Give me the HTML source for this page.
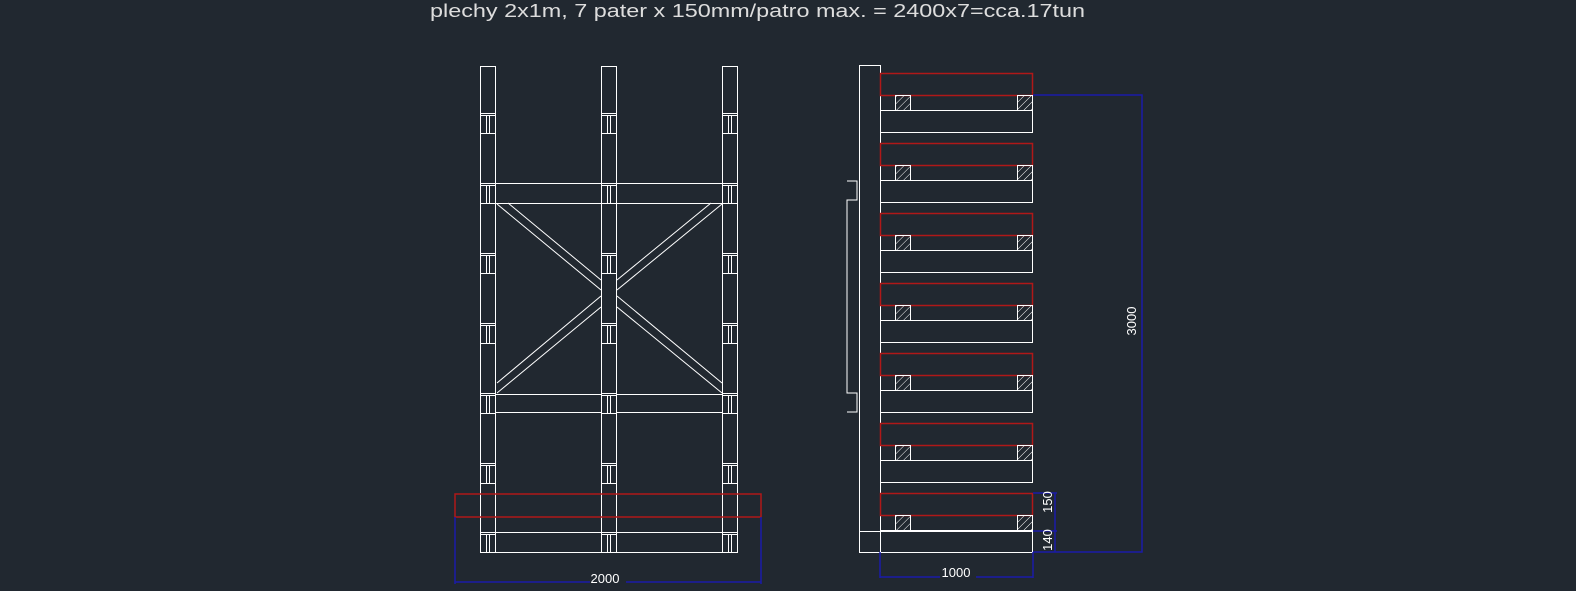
<!DOCTYPE html>
<html><head><meta charset="utf-8"><style>
html,body{margin:0;padding:0;background:#212830;}
svg{display:block}
</style></head><body>
<svg width="1576" height="591" viewBox="0 0 1576 591" xmlns="http://www.w3.org/2000/svg">
<defs>
<pattern id="h" width="5" height="5" patternUnits="userSpaceOnUse" patternTransform="rotate(45)">
<line x1="0" y1="0" x2="0" y2="5" stroke="#fff" stroke-width="1"/>
</pattern>
<g id="j" stroke="#fff" stroke-width="1" fill="none">
<line x1="0" y1="0.5" x2="16" y2="0.5"/><line x1="0" y1="2.5" x2="16" y2="2.5"/>
<line x1="0" y1="20.5" x2="16" y2="20.5"/>
<line x1="6.5" y1="3" x2="6.5" y2="20"/><line x1="9.5" y1="3" x2="9.5" y2="20"/>
</g>
<g id="col"><rect x="0.5" y="66.5" width="15" height="486" fill="none" stroke="#fff"/>
<use href="#j" y="113"/><use href="#j" y="183"/><use href="#j" y="253"/><use href="#j" y="323"/><use href="#j" y="393"/><use href="#j" y="463"/><use href="#j" y="532"/>
</g>
<g id="lv">
<rect x="880.5" y="0.5" width="152" height="22" fill="none" stroke="#b01818" stroke-width="1.5"/>
<rect x="895.5" y="22.5" width="15" height="15" fill="url(#h)" stroke="#fff"/>
<rect x="1017.5" y="22.5" width="15" height="15" fill="url(#h)" stroke="#fff"/>
<rect x="880.5" y="37.5" width="152" height="22" fill="none" stroke="#fff"/>
</g>
</defs>
<text x="430" y="17" font-family="Liberation Sans, sans-serif" font-size="18" fill="#ddd" textLength="655" lengthAdjust="spacingAndGlyphs">plechy 2x1m, 7 pater x 150mm/patro max. = 2400x7=cca.17tun</text>

<g stroke="#fff" stroke-width="1" fill="none">
<use href="#col" x="480"/><use href="#col" x="601"/><use href="#col" x="722"/>
<line x1="496" y1="183.5" x2="601" y2="183.5"/><line x1="496" y1="203.5" x2="601" y2="203.5"/>
<line x1="617" y1="183.5" x2="722" y2="183.5"/><line x1="617" y1="203.5" x2="722" y2="203.5"/>
<line x1="496" y1="394.5" x2="601" y2="394.5"/><line x1="496" y1="412.5" x2="601" y2="412.5"/>
<line x1="617" y1="394.5" x2="722" y2="394.5"/><line x1="617" y1="412.5" x2="722" y2="412.5"/>
<line x1="496" y1="532.5" x2="601" y2="532.5"/><line x1="496" y1="552.5" x2="601" y2="552.5"/>
<line x1="617" y1="532.5" x2="722" y2="532.5"/><line x1="617" y1="552.5" x2="722" y2="552.5"/>
<line x1="508" y1="203" x2="601" y2="280"/><line x1="497" y1="204" x2="601" y2="290"/>
<line x1="601" y1="296" x2="497" y2="383"/><line x1="601" y1="307" x2="497" y2="393"/>
<line x1="711" y1="203" x2="617" y2="280"/><line x1="722" y1="204" x2="617" y2="290"/>
<line x1="617" y1="296" x2="722" y2="383"/><line x1="617" y1="307" x2="722" y2="393"/>
</g>
<rect x="455" y="494" width="306" height="23" fill="none" stroke="#b01818" stroke-width="1.5"/>
<g stroke="#1a1aa8" stroke-width="1.5" fill="none">
<line x1="455" y1="517" x2="455" y2="584"/><line x1="761" y1="517" x2="761" y2="584"/>
<line x1="455" y1="582" x2="761" y2="582"/>
</g>
<rect x="590" y="572" width="36" height="12" fill="#212830"/>
<text x="605" y="583" font-family="Liberation Sans, sans-serif" font-size="13" fill="#fff" text-anchor="middle">2000</text>

<g stroke="#fff" stroke-width="1" fill="none">
<rect x="859.5" y="65.5" width="21" height="487"/>
<polyline points="847,181 857,181 857,200 847,200 847,393 857,393 857,412 847,412"/>
<rect x="859.5" y="531.5" width="173" height="21"/>
</g>
<use href="#lv" y="73"/><use href="#lv" y="143"/><use href="#lv" y="213"/><use href="#lv" y="283"/><use href="#lv" y="353"/><use href="#lv" y="423"/><use href="#lv" y="493"/>
<g stroke="#1a1aa8" stroke-width="1.5" fill="none">
<polyline points="1033,95 1142,95 1142,552 1033,552"/>
<line x1="1033" y1="493" x2="1057" y2="493"/><line x1="1033" y1="531" x2="1057" y2="531"/>
<line x1="1055" y1="493" x2="1055" y2="552"/>
<line x1="880" y1="552" x2="880" y2="578"/><line x1="1033" y1="552" x2="1033" y2="578"/>
<line x1="880" y1="577" x2="1033" y2="577"/>
</g>
<rect x="940" y="566" width="36" height="12" fill="#212830"/>
<text x="956" y="577" font-family="Liberation Sans, sans-serif" font-size="13" fill="#fff" text-anchor="middle">1000</text>
<text transform="translate(1136,321) rotate(-90)" font-family="Liberation Sans, sans-serif" font-size="13" fill="#fff" text-anchor="middle">3000</text>
<text transform="translate(1052,502) rotate(-90)" font-family="Liberation Sans, sans-serif" font-size="13" fill="#fff" text-anchor="middle">150</text>
<text transform="translate(1052,540) rotate(-90)" font-family="Liberation Sans, sans-serif" font-size="13" fill="#fff" text-anchor="middle">140</text>
</svg>
</body></html>
